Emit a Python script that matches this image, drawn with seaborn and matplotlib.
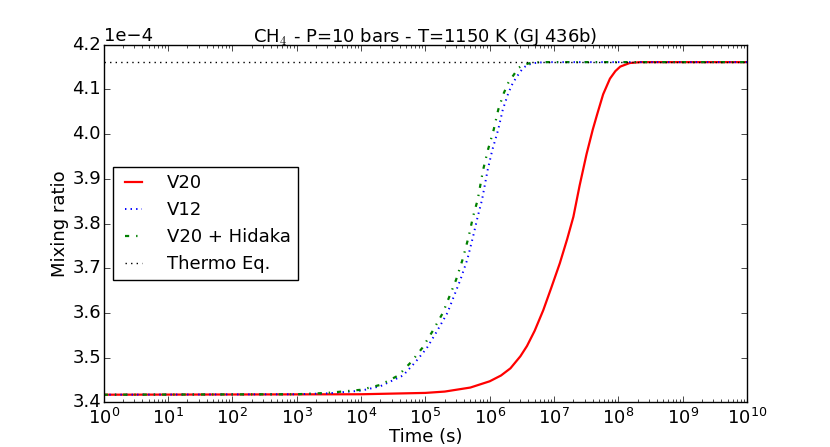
import numpy as np
import pandas as pd
import matplotlib
matplotlib.use("Agg")
import matplotlib.pyplot as plt
import seaborn as sns

# Mixing ratios in units of 1e-4
thermo_eq = 4.161

v20_time = [1.0, 1.0e4, 1.0e5, 2.0e5, 5.0e5, 1.0e6, 1.5e6, 2.1e6, 3.0e6, 3.8e6,
            5.0e6, 6.8e6, 9.0e6, 1.23e7, 1.6e7, 2.0e7, 2.5e7, 3.2e7, 4.0e7,
            4.7e7, 5.8e7, 7.4e7, 9.0e7, 1.07e8, 1.5e8, 2.2e8, 1.0e10]
v20_mr = [3.417, 3.418, 3.421, 3.424, 3.433, 3.447, 3.460, 3.476, 3.503, 3.526,
          3.560, 3.606, 3.655, 3.711, 3.765, 3.815, 3.885, 3.955, 4.010,
          4.045, 4.089, 4.124, 4.141, 4.151, 4.159, 4.161, 4.161]

v12_time = [1.0, 1.0e3, 3.0e3, 1.0e4, 2.0e4, 4.5e4, 7.0e4, 1.05e5, 1.5e5, 2.2e5,
            3.5e5, 4.5e5, 5.5e5, 6.5e5, 7.6e5, 9.3e5, 1.1e6, 1.35e6, 1.6e6,
            1.95e6, 2.3e6, 2.75e6, 3.3e6, 3.9e6, 5.0e6, 7.0e6, 1.0e10]
v12_mr = [3.417, 3.418, 3.420, 3.426, 3.436, 3.460, 3.490, 3.521, 3.558, 3.600,
          3.674, 3.720, 3.770, 3.815, 3.853, 3.920, 3.965, 4.009, 4.055,
          4.092, 4.115, 4.132, 4.148, 4.155, 4.159, 4.161, 4.161]

hidaka_time = [1.0, 1.0e3, 3.0e3, 1.0e4, 2.0e4, 3.8e4, 6.0e4, 9.0e4, 1.28e5, 1.87e5,
               3.0e5, 3.8e5, 4.7e5, 5.5e5, 6.5e5, 7.9e5, 9.4e5, 1.15e6, 1.36e6,
               1.66e6, 1.95e6, 2.35e6, 2.8e6, 3.3e6, 4.3e6, 6.0e6, 1.0e10]
hidaka_mr = [3.417, 3.418, 3.421, 3.428, 3.439, 3.460, 3.490, 3.522, 3.558, 3.600,
             3.674, 3.720, 3.770, 3.815, 3.853, 3.920, 3.965, 4.009, 4.055,
             4.092, 4.115, 4.132, 4.148, 4.155, 4.159, 4.161, 4.161]

eq_time = [1.0, 1.0e10]
eq_mr = [thermo_eq, thermo_eq]

plt.style.use('classic')
plt.rcParams['font.size'] = 13

fig, ax = plt.subplots(figsize=(8.3, 4.47), dpi=100)
fig.patch.set_facecolor('white')

sns.lineplot(x=v20_time, y=np.array(v20_mr) * 1e-4, ax=ax, color='r',
             linewidth=1.6, label='V20')
sns.lineplot(x=v12_time, y=np.array(v12_mr) * 1e-4, ax=ax, color='b',
             linewidth=1.4, linestyle=':', label='V12')
sns.lineplot(x=hidaka_time, y=np.array(hidaka_mr) * 1e-4, ax=ax, color='g',
             linewidth=1.6, linestyle='-.', label='V20 + Hidaka')
sns.lineplot(x=eq_time, y=np.array(eq_mr) * 1e-4, ax=ax, color='k',
             linewidth=1.0, linestyle=':', label='Thermo Eq.')

ax.set_xscale('log')
ax.set_xlim(1, 1e10)
ax.set_ylim(3.4e-4, 4.2e-4)
ax.ticklabel_format(axis='y', style='sci', scilimits=(0, 0), useOffset=False)
ax.tick_params(labelsize=13)
ax.tick_params(axis='y', which='both', pad=2)
ax.set_xlabel('Time (s)', fontsize=13, labelpad=0)
ax.set_ylabel('Mixing ratio', fontsize=13, labelpad=2)
ax.set_title('CH$_4$ - P=10 bars - T=1150 K (GJ 436b)', fontsize=13, pad=2)
ax.legend(loc='center left', fontsize=13, handlelength=1.5, handletextpad=1.1)

plt.savefig('out.png', dpi=100)
